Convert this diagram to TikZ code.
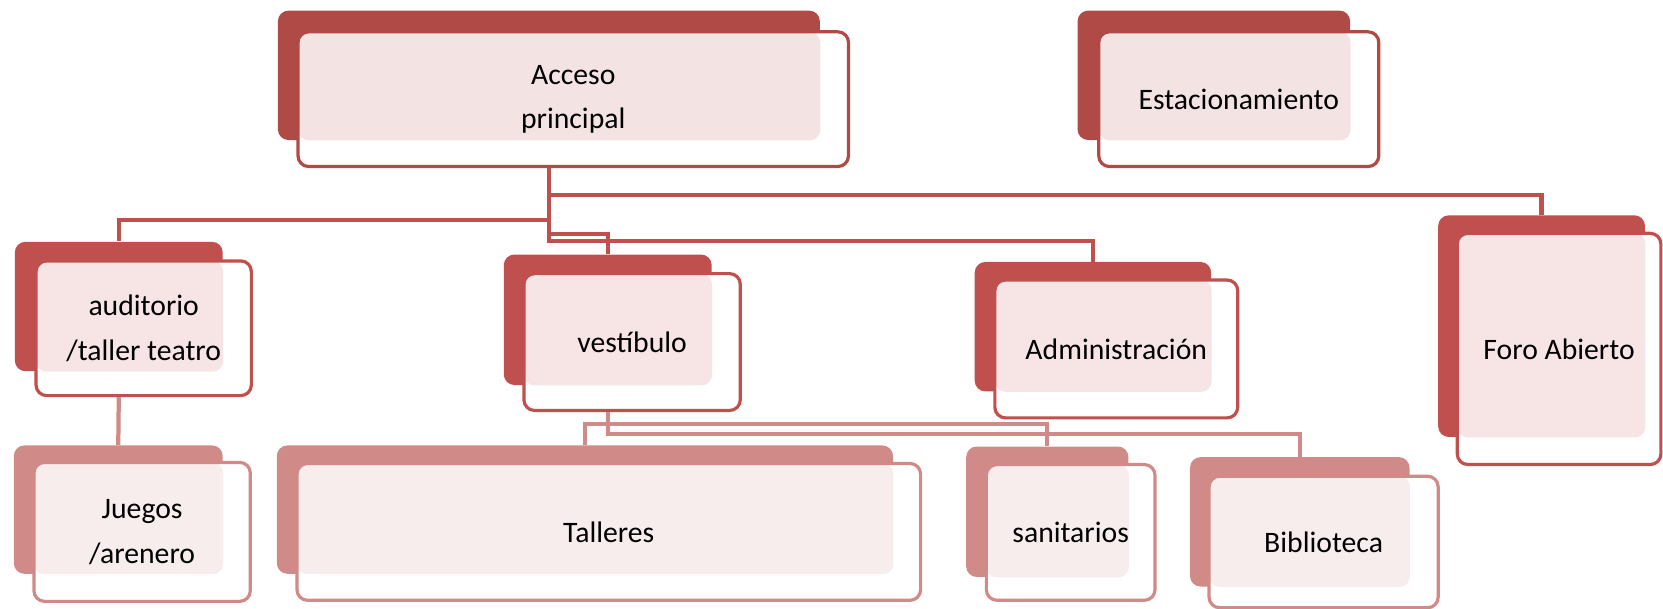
\documentclass[tikz,border=0pt]{standalone}
\usepackage{fontspec}
\setmainfont{Carlito}
\definecolor{rojoA}{RGB}{176,74,71}
\definecolor{rojoB}{RGB}{192,80,77}
\definecolor{rosa}{RGB}{208,138,136}

\begin{document}
\begin{tikzpicture}[x=0.5pt,y=-0.5pt,
        fondo/.style={rectangle,rounded corners=5pt,fill=#1,inner sep=0pt},
        caja/.style 2 args={rectangle,rounded corners=5pt,draw=#1,line width=1.5pt,
        fill=white,inner sep=0pt,align=center,font=\fontsize{14}{21}\selectfont,
        path picture={\fill[#1!15,rounded corners=5pt]
            (path picture bounding box.north west) rectangle (#2.south east);}},
        enlace/.style={draw=#1,line width=2pt}]
    \useasboundingbox (0,0) rectangle (1568,574);

    % fila superior
    \node[fondo=rojoA,minimum width=255.5pt,minimum height=61pt] (accb) at (517.5,71) {};
    \node[caja={rojoA}{accb},minimum width=259.5pt,minimum height=63.5pt] (accf) at (540.5,93.5) {Acceso\\principal};
    \node[fondo=rojoA,minimum width=128.5pt,minimum height=61pt] (estb) at (1144.5,71) {};
    \node[caja={rojoA}{estb},minimum width=132pt,minimum height=63.5pt] (estf) at (1168,93.5) {Estacionamiento};

    % fila media
    \node[fondo=rojoB,minimum width=98pt,minimum height=61pt] (audb) at (112,289) {};
    \node[caja={rojoB}{audb},minimum width=101.5pt,minimum height=63.5pt] (audf) at (135.5,309.5) {auditorio\\/taller teatro};
    \node[fondo=rojoB,minimum width=98pt,minimum height=61.5pt] (vesb) at (573,301.5) {};
    \node[caja={rojoB}{vesb},minimum width=102pt,minimum height=64.5pt] (vesf) at (596,322.5) {vestíbulo};
    \node[fondo=rojoB,minimum width=111.5pt,minimum height=61pt] (admb) at (1030.5,308) {};
    \node[caja={rojoB}{admb},minimum width=114.5pt,minimum height=65pt] (admf) at (1052.5,329) {Administración};
    \node[fondo=rojoB,minimum width=97.5pt,minimum height=104.5pt] (forob) at (1453.5,307.5) {};
    \node[caja={rojoB}{forob},minimum width=96pt,minimum height=109pt] (forof) at (1470,329) {Foro Abierto};

    % fila inferior
    \node[fondo=rosa,minimum width=98.5pt,minimum height=60.5pt] (jueb) at (111.5,480.5) {};
    \node[caja={rosa}{jueb},minimum width=102pt,minimum height=65.5pt] (juef) at (134,501.5) {Juegos\\/arenero};
    \node[fondo=rosa,minimum width=290.5pt,minimum height=60.5pt] (talb) at (551.5,480.5) {};
    \node[caja={rosa}{talb},minimum width=294pt,minimum height=64.5pt] (talf) at (574,501.5) {Talleres};
    \node[fondo=rosa,minimum width=76.5pt,minimum height=61.5pt] (sanb) at (987.5,482.5) {};
    \node[caja={rosa}{sanb},minimum width=79.5pt,minimum height=64pt] (sanf) at (1009.5,502) {sanitarios};
    \node[fondo=rosa,minimum width=103.5pt,minimum height=61pt] (bibb) at (1225.5,492) {};
    \node[caja={rosa}{bibb},minimum width=108pt,minimum height=62pt] (bibf) at (1248,511) {Biblioteca};

    % enlaces desde el acceso
    \draw[enlace=rojoB] (accb.south |- accf.south) -- ++(0,25) -| (forob.north);
    \draw[enlace=rojoB] (accb.south |- accf.south) -- ++(0,49) -| (audb.north);
    \draw[enlace=rojoB] (accb.south |- accf.south) -- ++(0,62) -| (vesb.north);
    \draw[enlace=rojoB] (accb.south |- accf.south) -- ++(0,69) -| (admb.north);

    % enlaces de la fila inferior
    \draw[enlace=rosa] (audb.south |- audf.south) -- (jueb.north);
    \draw[enlace=rosa] (vesb.south |- vesf.south) -- ++(0,11) -| (talb.north);
    \draw[enlace=rosa] (vesb.south |- vesf.south) -- ++(0,11) -| (sanb.north);
    \draw[enlace=rosa] (vesb.south |- vesf.south) -- ++(0,21) -| (bibb.north);
\end{tikzpicture}
\end{document}
